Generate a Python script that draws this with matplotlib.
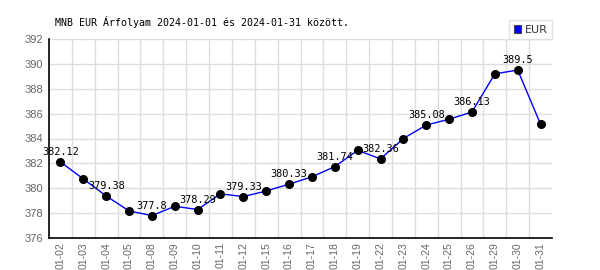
import matplotlib
matplotlib.use("Agg")
import matplotlib.pyplot as plt
from matplotlib.patches import Patch

dates = ["01-02", "01-03", "01-04", "01-05", "01-08", "01-09", "01-10", "01-11",
         "01-12", "01-15", "01-16", "01-17", "01-18", "01-19", "01-22", "01-23",
         "01-24", "01-25", "01-26", "01-29", "01-30", "01-31"]
eur = [382.12, 380.75, 379.38, 378.18, 377.8, 378.55, 378.29, 379.55,
       379.33, 379.78, 380.33, 380.92, 381.74, 383.05, 382.36, 384.0,
       385.08, 385.55, 386.13, 389.2, 389.5, 385.15]
yticks = [376, 378, 380, 382, 384, 386, 388, 390, 392]
title = "MNB EUR Árfolyam 2024-01-01 és 2024-01-31 között."

fig = plt.figure(figsize=(6, 2.7), dpi=100)
ax = fig.add_axes([49/600, 32/270, 503/600, 199/270])

x = list(range(len(dates)))
ax.plot(x, eur, color="#0000ff", lw=1, zorder=3)
ax.plot(x, eur, "o", color="black", ms=5.5, zorder=4)

for i in range(0, len(dates), 2):
    ax.annotate(f"{eur[i]:g}", (x[i], eur[i]), xytext=(0, 3.5), textcoords="offset points",
                ha="center", va="bottom", family="DejaVu Sans Mono", fontsize=7.4, color="black", zorder=5)

ax.set_xlim(-0.5, len(dates) - 0.5)
ax.set_ylim(376, 392)
ax.set_yticks(yticks)
ax.set_yticklabels([str(v) for v in yticks], color="#666666", fontsize=8, family="Liberation Sans")
ax.set_xticks(x)
ax.set_xticklabels(dates, rotation=90, color="#666666", fontsize=7.5, family="Liberation Sans")
ax.set_xticks([i + 0.5 for i in range(len(dates) - 1)], minor=True)
ax.tick_params(axis="y", which="both", length=0, pad=4)
ax.tick_params(axis="x", which="both", length=0, pad=3)
ax.grid(True, which="minor", axis="x", color="#dddddd", lw=1)
ax.grid(True, which="major", axis="y", color="#dddddd", lw=1)
ax.grid(False, which="major", axis="x")
ax.set_axisbelow(True)
for s in ["top", "right"]:
    ax.spines[s].set_visible(False)
for s in ["left", "bottom"]:
    ax.spines[s].set_color("black")
    ax.spines[s].set_linewidth(1.2)

fig.text(55/600, 1 - 22/270, title, family="DejaVu Sans Mono", fontsize=7.2, va="center", ha="left")

handle = Patch(facecolor="#0000ff", edgecolor="#444444", lw=0.8)
leg = fig.legend([handle], ["EUR"], loc="lower right", bbox_to_anchor=(552/600, 231/270),
                 fancybox=False, frameon=True, edgecolor="#dddddd", fontsize=8,
                 handlelength=0.7, handleheight=0.7, handletextpad=0.3, borderpad=0.4,
                 borderaxespad=0)
leg.get_frame().set_linewidth(1)
for t in leg.get_texts():
    t.set_color("#333333")

fig.savefig("out.png", dpi=100)
